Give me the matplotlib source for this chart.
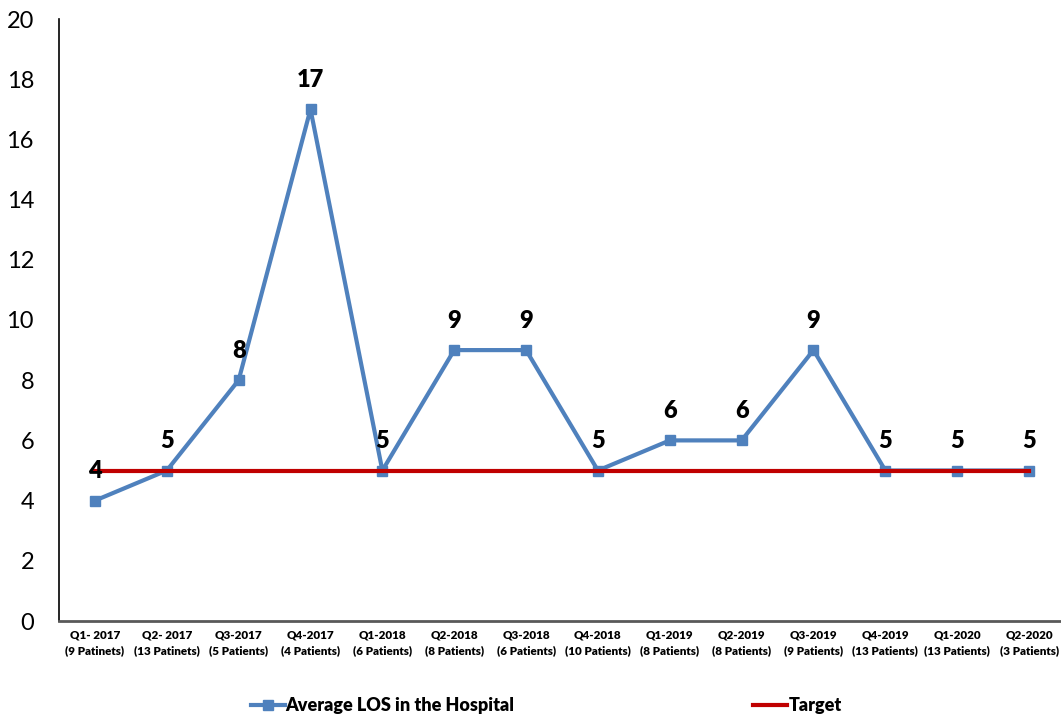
import numpy as np
import matplotlib.pyplot as plt
from matplotlib.lines import Line2D

# ── Data ─────────────────────────────────────────────────────────────────────
QUARTERS = ["Q1- 2017", "Q2- 2017", "Q3-2017", "Q4-2017", "Q1-2018", "Q2-2018",
            "Q3-2018", "Q4-2018", "Q1-2019", "Q2-2019", "Q3-2019", "Q4-2019",
            "Q1-2020", "Q2-2020"]
PATIENTS = ["(9 Patinets)", "(13 Patinets)", "(5 Patients)", "(4 Patients)",
            "(6 Patients)", "(8 Patients)", "(6 Patients)", "(10 Patients)",
            "(8 Patients)", "(8 Patients)", "(9 Patients)", "(13 Patients)",
            "(13 Patients)", "(3 Patients)"]
AVG_LOS = [4, 5, 8, 17, 5, 9, 9, 5, 6, 6, 9, 5, 5, 5]
TARGET = [5] * len(QUARTERS)
Y_TICKS = [0, 2, 4, 6, 8, 10, 12, 14, 16, 18, 20]

BLUE = "#4F81BD"
RED = "#C00000"

plt.rcParams["font.family"] = ["Lato", "DejaVu Sans"]

W, H = 1061, 719
fig = plt.figure(figsize=(W / 100, H / 100), dpi=100)
ax = fig.add_axes([59 / W, (H - 621) / H, 1006 / W, 602 / H])

x = np.arange(len(QUARTERS))
ax.plot(x, AVG_LOS, color=BLUE, lw=3, marker="s", markersize=7.5,
        label="Average LOS in the Hospital", zorder=3)
ax.plot(x, TARGET, color=RED, lw=3, label="Target", zorder=4)

# data labels above every point
for xi, v in zip(x, AVG_LOS):
    ax.annotate(str(v), (xi, v), xytext=(0, 21), textcoords="offset points",
                ha="center", va="center", fontsize=17, fontweight="heavy",
                zorder=5)

ax.set_xlim(-0.5, len(QUARTERS) - 0.5)
ax.set_ylim(0, 20)
ax.set_yticks(Y_TICKS)
ax.set_yticklabels([str(t) for t in Y_TICKS], fontsize=17)
ax.set_xticks(x)
ax.set_xticklabels([f"{q}\n{p}" for q, p in zip(QUARTERS, PATIENTS)],
                   fontsize=8.4, fontweight="heavy", linespacing=1.5)
ax.tick_params(axis="y", length=0, pad=18)
ax.tick_params(axis="x", length=0, pad=6)

for s in ["top", "right"]:
    ax.spines[s].set_visible(False)
ax.spines["left"].set_linewidth(1.2)
ax.spines["left"].set_color("black")
ax.spines["bottom"].set_linewidth(2)
ax.spines["bottom"].set_color("#595959")

handles = [Line2D([], [], color=BLUE, lw=3, marker="s", markersize=7.5),
           Line2D([], [], color=RED, lw=3)]
fig.legend(handles, ["Average LOS in the Hospital", "Target"],
           loc="center", bbox_to_anchor=(546 / W, (H - 706) / H), ncol=2,
           frameon=False, columnspacing=13.2, handlelength=1.9, handletextpad=0.05,
           prop={"size": 13, "weight": "heavy"})

fig.savefig("out.png", dpi=100)
